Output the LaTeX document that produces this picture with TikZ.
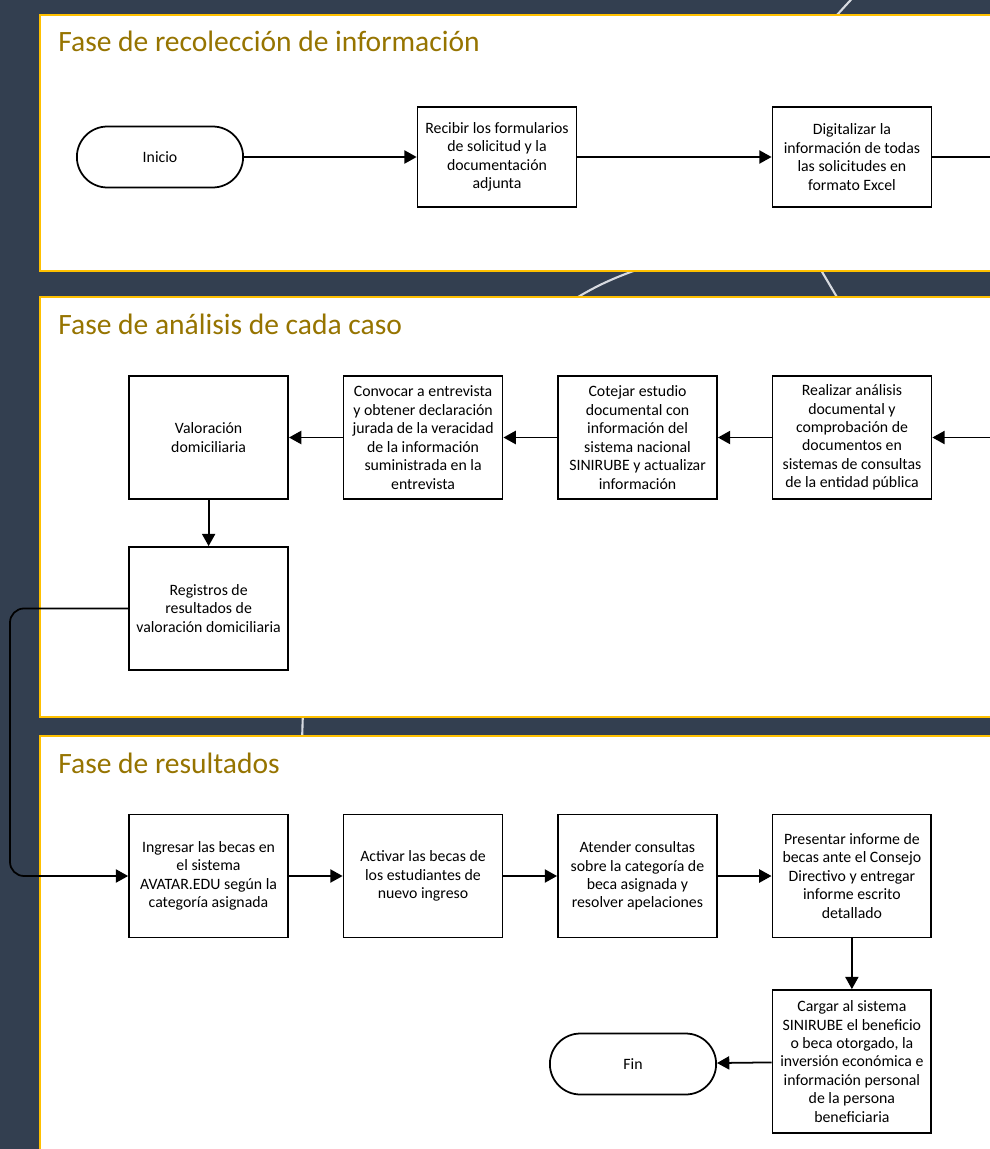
\documentclass[tikz,border=0pt]{standalone}
\usepackage{fontspec}
\setmainfont{Carlito}
\usetikzlibrary{arrows.meta, positioning, shapes.misc}

\definecolor{fondo}{RGB}{51,63,80}
\definecolor{borde}{RGB}{255,192,0}
\definecolor{titulo}{RGB}{150,116,0}
\definecolor{curva}{RGB}{215,218,224}

\begin{document}
\begin{tikzpicture}[
    x=0.02cm, y=-0.02cm,
    >={Triangle[length=7pt, width=7.5pt]},
    node distance=4.29cm,
    on grid,
    proc/.style={draw, line width=1pt, fill=white, minimum width=3.18cm,
        minimum height=2.46cm, align=center, inner sep=1pt,
        font=\fontsize{9}{10.5}\selectfont},
    term/.style={draw, line width=1pt, fill=white, rounded rectangle,
        minimum width=3.56cm, minimum height=1.22cm,
        font=\fontsize{9}{10.5}\selectfont},
    fase/.style={draw=borde, line width=1.6pt, fill=white},
    fasetitulo/.style={text=titulo, anchor=base west, inner sep=0pt,
        font=\fontsize{16.8}{20}\selectfont},
    flecha/.style={->, line width=1pt},
]

    % fondo
    \clip (0,0) rectangle (990,1149);
    \fill[fondo] (0,0) rectangle (990,1149);
    \draw[curva, line width=1.2pt] (826,27) -- (858,-8);
    \draw[curva, line width=1.2pt] (570,302) .. controls (592,288) and (612,278) .. (645,267);
    \draw[curva, line width=1.2pt] (818,265) -- (841,304);
    \draw[curva, line width=1.2pt] (303,710) -- (302,742);

    % fases
    \draw[fase] (40,15) rectangle (1005,271);
    \draw[fase] (40,297) rectangle (1005,717);
    \draw[fase] (40,736) rectangle (1005,1165);

    \node[fasetitulo] (t1) at (58,52)  {Fase de recolección de información};
    \node[fasetitulo] (t2) at (58,334) {Fase de análisis de cada caso};
    \node[fasetitulo] (t3) at (58,773) {Fase de resultados};

    % fase 1
    \node[term]                        (inicio)  at (160,157) {Inicio};
    \node[proc, minimum height=2cm]    (recibir) at (497,157)
        {Recibir los formularios\\de solicitud y la\\documentación\\adjunta};
    \node[proc, minimum height=2cm, right=7.1cm of recibir] (digital)
        {Digitalizar la\\información de todas\\las solicitudes en\\formato Excel};
    \coordinate (salida) at (995,157);

    % fase 2
    \node[proc]                        (realizar) at (852,437.5)
        {Realizar análisis\\documental y\\comprobación de\\documentos en\\sistemas de consultas\\de la entidad pública};
    \node[proc, left=of realizar]      (cotejar)
        {Cotejar estudio\\documental con\\información del\\sistema nacional\\SINIRUBE y actualizar\\información};
    \node[proc, left=of cotejar]       (convocar)
        {Convocar a entrevista\\y obtener declaración\\jurada de la veracidad\\de la información\\suministrada en la\\entrevista};
    \node[proc, left=of convocar]      (valoracion)
        {Valoración\\domiciliaria};
    \node[proc, below=3.42cm of valoracion] (registros)
        {Registros de\\resultados de\\valoración domiciliaria};
    \coordinate (entrada) at (995,437.5);
    \coordinate (retorno) at (10,740);

    % fase 3
    \node[proc]                        (ingresar) at (208.5,876)
        {Ingresar las becas en\\el sistema\\AVATAR.EDU según la\\categoría asignada};
    \node[proc, right=of ingresar]     (activar)
        {Activar las becas de\\los estudiantes de\\nuevo ingreso};
    \node[proc, right=of activar]      (atender)
        {Atender consultas\\sobre la categoría de\\beca asignada y\\resolver apelaciones};
    \node[proc, right=of atender]      (presentar)
        {Presentar informe de\\becas ante el Consejo\\Directivo y entregar\\informe escrito\\detallado};
    \node[proc, minimum height=2.86cm, below=3.71cm of presentar] (cargar)
        {Cargar al sistema\\SINIRUBE el beneficio\\o beca otorgado, la\\inversión económica e\\información personal\\de la persona\\beneficiaria};
    \node[term]                        (fin) at (633,1064) {Fin};

    % conectores
    \draw[flecha] (inicio) -- (recibir);
    \draw[flecha] (recibir) -- (digital);
    \draw[line width=1pt] (digital) -- (salida);
    \draw[flecha] (entrada) -- (realizar);
    \draw[flecha] (realizar) -- (cotejar);
    \draw[flecha] (cotejar) -- (convocar);
    \draw[flecha] (convocar) -- (valoracion);
    \draw[flecha] (valoracion) -- (registros);
    \draw[flecha, rounded corners=8pt] (registros) -| (retorno) |- (ingresar);
    \draw[flecha] (ingresar) -- (activar);
    \draw[flecha] (activar) -- (atender);
    \draw[flecha] (atender) -- (presentar);
    \draw[flecha] (presentar) -- (cargar);
    \draw[flecha] (cargar) -- (fin);
\end{tikzpicture}
\end{document}
